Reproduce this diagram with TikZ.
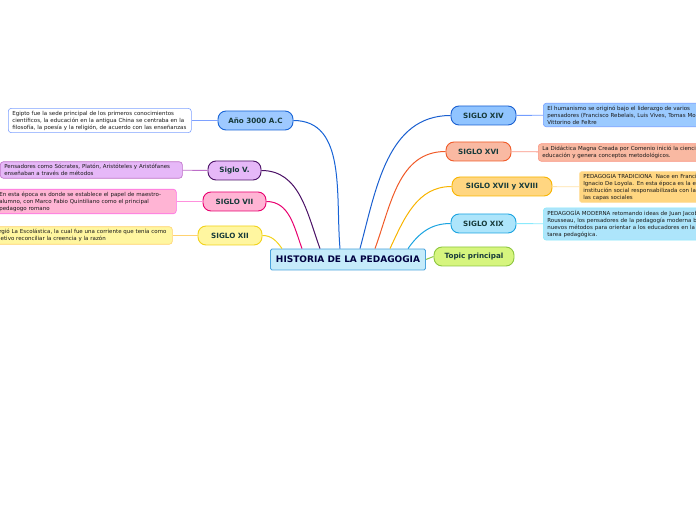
\documentclass[tikz,border=0pt]{standalone}
\usepackage{fontspec}
\setmainfont{DejaVu Sans}
\usepackage{xcolor}
\usepackage{tikz}
\usetikzlibrary{positioning}

\definecolor{txtdark}{HTML}{173A3A}
\definecolor{anoF}{HTML}{9EC9FF}   \definecolor{anoD}{HTML}{1763D6}
\definecolor{svF}{HTML}{E6B8F8}    \definecolor{svD}{HTML}{4B1166}
\definecolor{sviiF}{HTML}{FFB4D4}  \definecolor{sviiD}{HTML}{E8006F}
\definecolor{sxiiF}{HTML}{FFF6A0}  \definecolor{sxiiD}{HTML}{F2D21A}
\definecolor{sxivF}{HTML}{90C4FF}  \definecolor{sxivD}{HTML}{1A5FD0}
\definecolor{sxviF}{HTML}{F9B9A2}  \definecolor{sxviD}{HTML}{F05A28}
\definecolor{sxviiF}{HTML}{FFD681} \definecolor{sxviiD}{HTML}{F8B400}
\definecolor{sxixF}{HTML}{ADE5FB}  \definecolor{sxixD}{HTML}{1AA3E0}
\definecolor{topicF}{HTML}{D6F57E} \definecolor{topicD}{HTML}{8DC63F}
\definecolor{histF}{HTML}{C5EBFA}  \definecolor{histD}{HTML}{4BA3DD}

\begin{document}
\begin{tikzpicture}[
  x=1pt, y=1pt,
  branch/.style={
    draw, line width=0.9pt,
    rounded corners=8pt,
    align=center,
    minimum height=19pt,
    inner sep=1pt,
    text=txtdark,
    font=\fontsize{7.2}{8.5}\selectfont\bfseries
  },
  detail/.style={
    draw, line width=0.6pt,
    rounded corners=3pt,
    align=left,
    inner xsep=4pt, inner ysep=2.5pt,
    text=black!90,
    font=\fontsize{5.5}{7}\selectfont
  },
  link/.style={line width=0.8pt},
  curve/.style={line width=1pt}
]
\useasboundingbox (0,0) rectangle (696,520);
\clip (0,0) rectangle (696,520);

% central topic
\node[draw=histD, fill=histF, line width=0.8pt, rounded corners=1.5pt,
  minimum width=155pt, minimum height=21pt, text=black!75!blue,
  font=\fontsize{9}{10}\selectfont\bfseries] (hist) at (348,260.5)
  {HISTORIA DE LA PEDAGOGIA};

\node[branch, draw=topicD, fill=topicF, minimum width=80pt] (topic) at (474,263.5)
  {Topic principal};

% left branches
\node[branch, draw=anoD, fill=anoF, minimum width=75pt] (ano) at (255.5,399.5) {Año 3000 A.C};
\node[branch, draw=svD, fill=svF, minimum width=53pt] (sv) at (234.5,349.5) {Siglo V.};
\node[branch, draw=sviiD, fill=sviiF, minimum width=63pt] (svii) at (234.5,318.5) {SIGLO VII};
\node[branch, draw=sxiiD, fill=sxiiF, minimum width=64pt] (sxii) at (230,284.5) {SIGLO XII};

% right branches
\node[branch, draw=sxivD, fill=sxivF, minimum width=65pt] (sxiv) at (483.5,404.5) {SIGLO XIV};
\node[branch, draw=sxviD, fill=sxviF, minimum width=65pt] (sxvi) at (478.5,368.5) {SIGLO XVI};
\node[branch, draw=sxviiD, fill=sxviiF, minimum width=100pt] (sxvii) at (502,333.5) {SIGLO XVII y XVIII};
\node[branch, draw=sxixD, fill=sxixF, minimum width=65pt] (sxix) at (483.5,296.5) {SIGLO XIX};

% details left
\node[detail, draw=anoF!80!blue, fill=white, anchor=west, text width=175pt] (egipto) at (8,399.5)
  {Egipto fue la sede principal de los primeros conocimientos\\
   científicos, la educación en la antigua China se centraba en la\\
   filosofía, la poesía y la religión, de acuerdo con las enseñanzas};
\node[detail, draw=svF!60!violet, fill=svF, anchor=west, text width=174pt] (pens) at (0,350)
  {Pensadores como Sócrates, Platón, Aristóteles y Aristófanes\\
   enseñaban a través de métodos};
\node[detail, draw=sviiF!60!magenta, fill=sviiF, anchor=west, text width=173pt] (epoca) at (-5,318.5)
  {En esta época es donde se establece el papel de maestro-\\
   alumno, con Marco Fabio Quintiliano como el principal\\
   pedagogo romano};
\node[detail, draw=sxiiF!70!orange, fill=sxiiF, anchor=west, text width=176pt] (surgio) at (-12,284.5)
  {Surgió La Escolástica, la cual fue una corriente que tenía como\\
   objetivo reconciliar la creencia y la razón};

% details right
\node[detail, draw=sxivF!80!blue, fill=sxivF!90!white, anchor=west, text width=200pt] (human) at (543,405)
  {El humanismo se originó bajo el liderazgo de varios\\
   pensadores (Francisco Rebelais, Luis Vives, Tomas Moro\\
   Vittorino de Feltre};
\node[detail, draw=sxviF!80!red, fill=sxviF, anchor=west, text width=200pt] (didac) at (538,367.5)
  {La Didáctica Magna Creada por Comenio inició la ciencia\\
   educación y genera conceptos metodológicos.};
\node[detail, draw=sxviiF!70!white, fill=sxviiF, anchor=west, text width=200pt] (tradic) at (579,333)
  {PEDAGOGIA TRADICIONA \ Nace en Francia\\
   Ignacio De Loyola. En esta época es la escuela\\
   institución social responsabilizada con la\\
   las capas sociales};
\node[detail, draw=sxixF!80!cyan, fill=sxixF, anchor=west, text width=200pt] (moderna) at (543,296)
  {PEDAGOGÍA MODERNA retomando ideas de Juan Jacobo\\
   Rousseau, los pensadores de la pedagogía moderna buscan\\
   nuevos métodos para orientar a los educadores en la\\
   tarea pedagógica.};

% curves to the central topic
\draw[curve, anoD] (ano.east) to[out=0, in=95] ([xshift=-8pt]hist.north);
\draw[curve, svD] (sv.east) to[out=0, in=110] ([xshift=-28pt]hist.north);
\draw[curve, sviiD] (svii.east) to[out=0, in=110] ([xshift=-46pt]hist.north);
\draw[curve, sxiiD] (sxii.east) to[out=0, in=125] ([xshift=-66pt]hist.north);
\draw[curve, sxivD] (sxiv.west) to[out=180, in=75] ([xshift=12pt]hist.north);
\draw[curve, sxviD] (sxvi.west) to[out=180, in=70] ([xshift=27pt]hist.north);
\draw[curve, sxviiD] (sxvii.west) to[out=180, in=65] ([xshift=42pt]hist.north);
\draw[curve, sxixD] (sxix.west) to[out=180, in=55] ([xshift=60pt]hist.north);
\draw[curve, topicD] (hist.east) -- (topic.west);

% links to details
\draw[link, anoF!80!blue] (ano) -- (egipto);
\draw[link, svF!60!violet] (sv) -- (pens);
\draw[link, sviiF!80!magenta] (svii) -- (epoca);
\draw[link, sxiiF!70!orange] (sxii) -- (surgio);
\draw[link, sxivF!80!blue] (sxiv) -- (human);
\draw[link, sxviF!80!red] (sxvi) -- (didac);
\draw[link, sxviiF!70!white] (sxvii) -- (tradic);
\draw[link, sxixF!80!cyan] (sxix) -- (moderna);

\end{tikzpicture}
\end{document}
